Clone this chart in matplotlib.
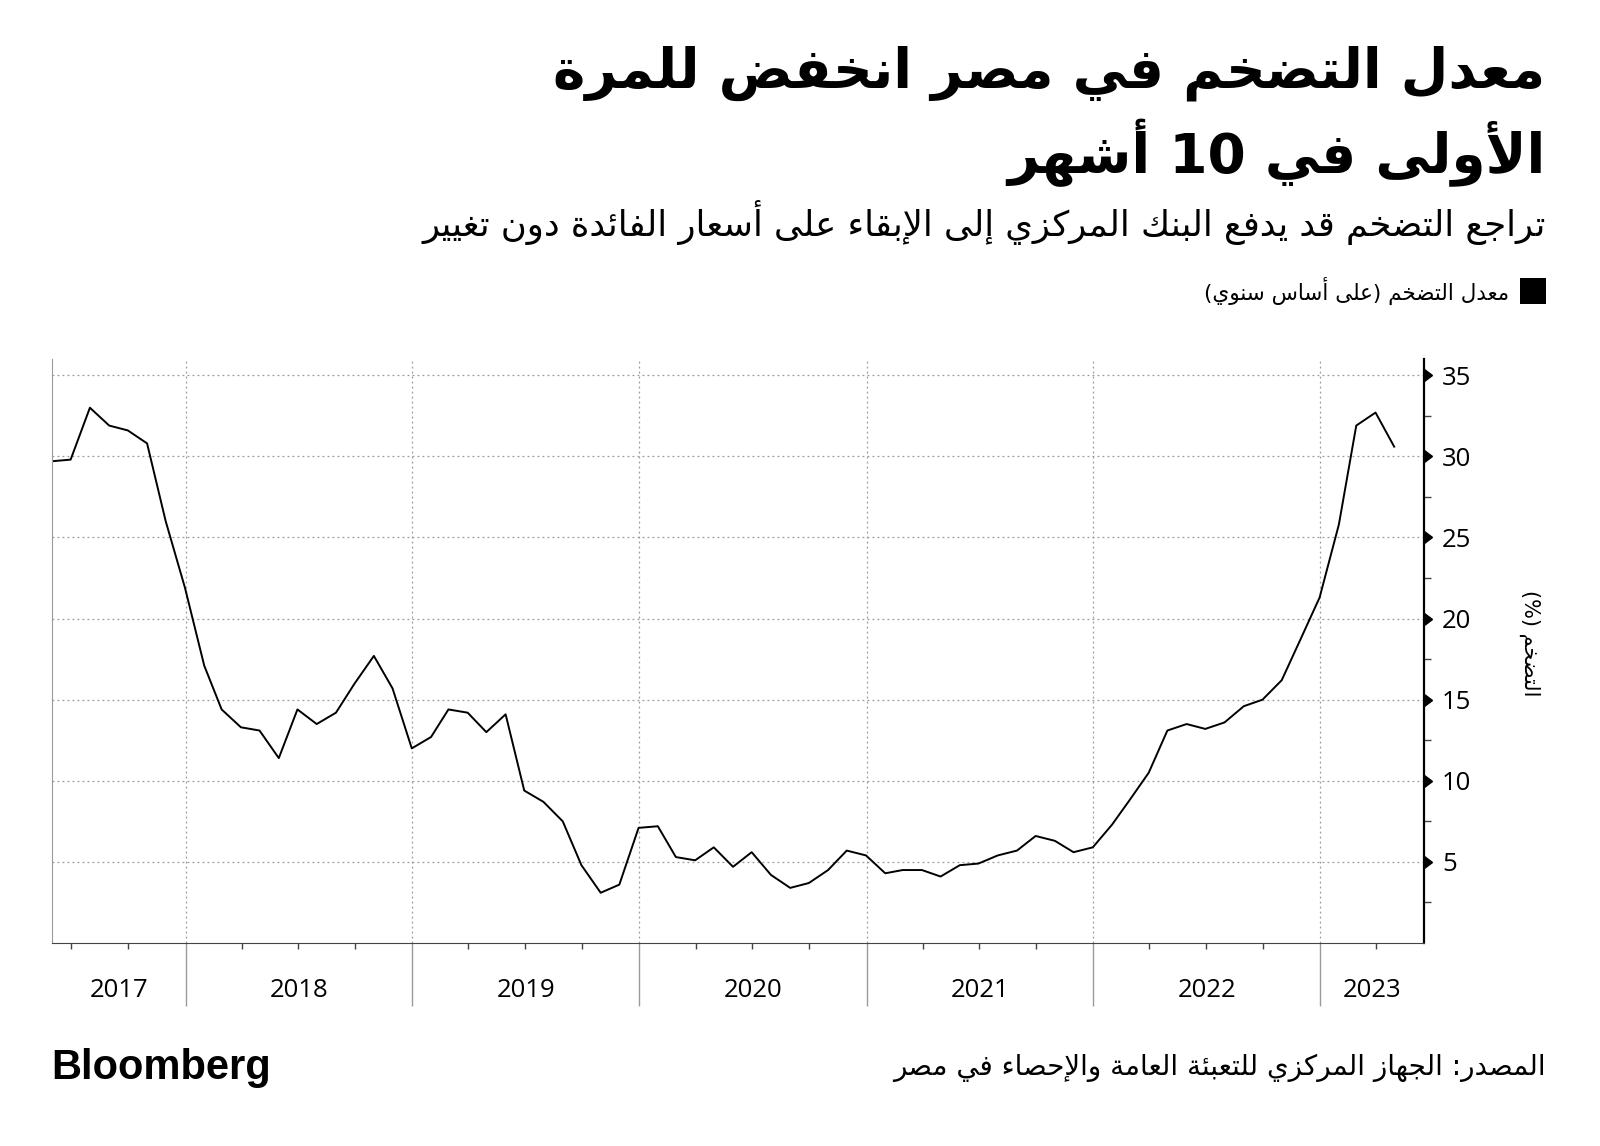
import re
import numpy as np
import pandas as pd
import matplotlib
matplotlib.use('Agg')
import matplotlib.pyplot as plt
import matplotlib.transforms as mtrans
import matplotlib.dates as mdates
from matplotlib.patches import Rectangle

# بيانات التضخم الشهرية (على أساس سنوي) - من مايو 2017 إلى أبريل 2023
start = '2017-05-31'
inflation = [29.7, 29.8, 33.0, 31.9, 31.6, 30.8, 26.0, 21.9,
             17.1, 14.4, 13.3, 13.1, 11.4, 14.4, 13.5, 14.2, 16.0, 17.7, 15.7, 12.0,
             12.7, 14.4, 14.2, 13.0, 14.1, 9.4, 8.7, 7.5, 4.8, 3.1, 3.6, 7.1,
             7.2, 5.3, 5.1, 5.9, 4.7, 5.6, 4.2, 3.4, 3.7, 4.5, 5.7, 5.4,
             4.3, 4.5, 4.5, 4.1, 4.8, 4.9, 5.4, 5.7, 6.6, 6.3, 5.6, 5.9,
             7.3, 8.8, 10.5, 13.1, 13.5, 13.2, 13.6, 14.6, 15.0, 16.2, 18.7, 21.3,
             25.8, 31.9, 32.7, 30.6]
dates = pd.date_range(start, periods=len(inflation), freq='ME')
years = [2017, 2018, 2019, 2020, 2021, 2022, 2023]
yticks = [5, 10, 15, 20, 25, 30, 35]

title1 = 'معدل التضخم في مصر انخفض للمرة'
title2 = 'الأولى في 10 أشهر'
subtitle = 'تراجع التضخم قد يدفع البنك المركزي إلى الإبقاء على أسعار الفائدة دون تغيير'
legend_txt = 'معدل التضخم (على أساس سنوي)'
ylabel = 'التضخم (%)'
source = 'المصدر: الجهاز المركزي للتعبئة العامة والإحصاء في مصر'

# تشكيل الحروف العربية يدويا (matplotlib لا يدعم الربط ولا الاتجاه)
RIGHT = {'\u0622': 0xFE81, '\u0623': 0xFE83, '\u0624': 0xFE85, '\u0625': 0xFE87,
         '\u0627': 0xFE8D, '\u0629': 0xFE93, '\u062F': 0xFEA9, '\u0630': 0xFEAB,
         '\u0631': 0xFEAD, '\u0632': 0xFEAF, '\u0648': 0xFEED, '\u0649': 0xFEEF}
DUAL = {'\u0626': 0xFE89, '\u0628': 0xFE8F, '\u062A': 0xFE95, '\u062B': 0xFE99,
        '\u062C': 0xFE9D, '\u062D': 0xFEA1, '\u062E': 0xFEA5, '\u0633': 0xFEB1,
        '\u0634': 0xFEB5, '\u0635': 0xFEB9, '\u0636': 0xFEBD, '\u0637': 0xFEC1,
        '\u0638': 0xFEC5, '\u0639': 0xFEC9, '\u063A': 0xFECD, '\u0641': 0xFED1,
        '\u0642': 0xFED5, '\u0643': 0xFED9, '\u0644': 0xFEDD, '\u0645': 0xFEE1,
        '\u0646': 0xFEE5, '\u0647': 0xFEE9, '\u064A': 0xFEF1}
LAMALEF = {'\u0622': 0xFEF5, '\u0623': 0xFEF7, '\u0625': 0xFEF9, '\u0627': 0xFEFB}


def shape(s):
    out = []
    i, n = 0, len(s)
    while i < n:
        c = s[i]
        link_prev = i > 0 and s[i - 1] in DUAL
        if c == '\u0644' and i + 1 < n and s[i + 1] in LAMALEF:
            b = LAMALEF[s[i + 1]]
            out.append(chr(b + 1 if link_prev else b))
            i += 2
            continue
        nxt = s[i + 1] if i + 1 < n else ''
        if c in DUAL:
            b = DUAL[c]
            link_next = nxt in DUAL or nxt in RIGHT
            if link_prev and link_next:
                b += 3
            elif link_prev:
                b += 1
            elif link_next:
                b += 2
            out.append(chr(b))
        elif c in RIGHT:
            out.append(chr(RIGHT[c] + 1 if link_prev else RIGHT[c]))
        elif c == '\u0621':
            out.append('\uFE80')
        else:
            out.append(c)
        i += 1
    return ''.join(out)


def ar(s):
    v = shape(s)[::-1]
    v = re.sub(r'[0-9A-Za-z%.,]+', lambda m: m.group(0)[::-1], v)
    return v.translate(str.maketrans('()', ')('))


plt.rcParams['font.family'] = ['Open Sans', 'DejaVu Sans']

fig = plt.figure(figsize=(16, 11.46), dpi=100)
ax = fig.add_axes([0.0325, 0.1771, 0.8575, 0.5096])

ax.plot(dates, inflation, color='black', lw=1.4)

x0 = pd.Timestamp('2017-05-31')
x1 = pd.Timestamp('2023-06-17')
ax.set_xlim(x0, x1)
ax.set_ylim(0, 36)

# المحور الأفقي
ax.xaxis.set_major_locator(mdates.YearLocator())
ax.xaxis.set_minor_locator(mdates.MonthLocator(bymonth=[4, 7, 10]))
ax.xaxis.set_major_formatter(plt.NullFormatter())
ax.tick_params(axis='x', which='major', length=45, width=1, color='#9a9a9a', direction='out')
ax.tick_params(axis='x', which='minor', length=4, width=1, color='#444444', direction='out')

for y in years:
    a = max(pd.Timestamp(f'{y}-01-01'), x0)
    b = min(pd.Timestamp(f'{y + 1}-01-01'), x1)
    mid = a + (b - a) / 2
    ax.text(mid, -0.082, str(y), transform=ax.get_xaxis_transform(),
            ha='center', va='center', fontsize=18.5, color='black')

# المحور الرأسي على اليمين
ax.yaxis.tick_right()
ax.set_yticks(yticks)
ax.set_yticks([2.5 + 5 * k for k in range(7)], minor=True)
ax.tick_params(axis='y', which='major', length=0, pad=13, labelsize=18.5)
ax.tick_params(axis='y', which='minor', length=5, width=1, color='#444444', direction='out')
trans = mtrans.blended_transform_factory(ax.transAxes, ax.transData)
ax.plot(np.ones(len(yticks)), yticks, ls='none', marker=9, markersize=8,
        color='black', transform=trans, clip_on=False)

ax.grid(True, which='major', axis='both', ls=(0, (1.5, 2.5)), color='#9a9a9a', lw=0.9)

ax.spines['top'].set_visible(False)
ax.spines['left'].set_color('#9a9a9a')
ax.spines['bottom'].set_color('#444444')
ax.spines['right'].set_color('black')
ax.spines['right'].set_linewidth(1.6)

# النصوص
fig.text(0.966, 0.936, ar(title1), ha='right', va='center', fontsize=39.5,
         fontweight='bold', family=['DejaVu Sans'])
fig.text(0.966, 0.867, ar(title2), ha='right', va='center', fontsize=39.5,
         fontweight='bold', family=['DejaVu Sans'])
fig.text(0.966, 0.806, ar(subtitle), ha='right', va='center', fontsize=25.5,
         family=['DejaVu Sans'])

fig.patches.append(Rectangle((0.950, 0.735), 0.016, 0.022, transform=fig.transFigure,
                             facecolor='black', edgecolor='none'))
fig.text(0.943, 0.746, ar(legend_txt), ha='right', va='center', fontsize=15.5,
         family=['DejaVu Sans'])

fig.text(0.956, 0.439, ar(ylabel), ha='center', va='center', rotation=270,
         fontsize=15, family=['DejaVu Sans'])

fig.text(0.032, 0.068, 'Bloomberg', ha='left', va='center', fontsize=30,
         fontweight='bold', family=['Liberation Sans'])
fig.text(0.966, 0.068, ar(source), ha='right', va='center', fontsize=20,
         family=['DejaVu Sans'])

fig.savefig('out.png', dpi=100)
